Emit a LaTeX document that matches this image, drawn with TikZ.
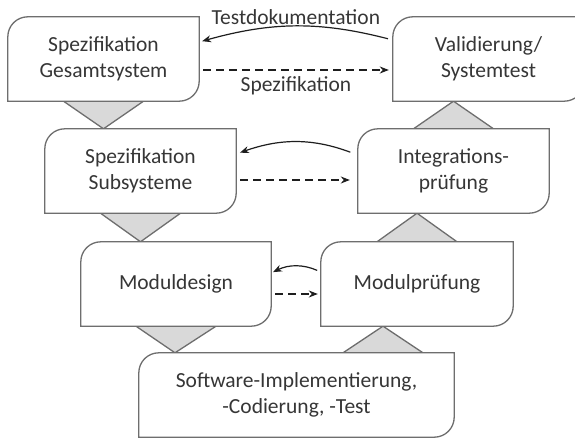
\documentclass[tikz,border=0pt]{standalone}
\usepackage{fontspec}
\setmainfont{Carlito}
\usetikzlibrary{arrows.meta}
\pgfdeclarelayer{background}
\pgfsetlayers{background,main}
\definecolor{txt}{HTML}{363636}
\definecolor{frameline}{HTML}{6E6E6E}
\definecolor{trifill}{HTML}{D9D9D9}
\definecolor{arrowline}{HTML}{1E1E1E}
\newcommand\cornerr{20pt}
% box outline with rounded top-left and bottom-right corners
\newcommand\vmframe[1]{%
  \draw[frameline, line width=1.3pt, fill=white]
    (#1.south west) -- ([yshift=-\cornerr]#1.north west)
    arc[start angle=180, end angle=90, radius=\cornerr]
    -- (#1.north east) -- ([yshift=\cornerr]#1.south east)
    arc[start angle=0, end angle=-90, radius=\cornerr] -- cycle;}
\begin{document}
\begin{tikzpicture}[x=1pt, y=-1pt,
  stage/.style={minimum width=191pt, minimum height=84pt, inner sep=0pt,
    align=center, text=txt, font=\fontsize{21.5}{26.5}\selectfont},
  tri/.style={draw=frameline, fill=trifill, line width=1.3pt, line join=round},
  solidarr/.style={draw=arrowline, line width=1.2pt,
    -{Stealth[length=9pt, width=7pt]}},
  dasharr/.style={draw=arrowline, line width=1.2pt, dash pattern=on 8pt off 5pt,
    -{Stealth[length=9pt, width=7pt]}},
  lbl/.style={text=txt, font=\fontsize{21.5}{26.5}\selectfont}]
\path[use as bounding box, clip] (0,0) rectangle (575,438);

% stages of the V-model
\node[stage] (b1)    at (103.5,59)  {Spezifikation\\Gesamtsystem};
\node[stage] (b2)    at (140.5,171) {Spezifikation\\Subsysteme};
\node[stage] (val)   at (488.5,59)  {Validierung/\\Systemtest};
\node[stage] (integ) at (453.5,171) {Integrations-\\prüfung};
\node[stage, minimum width=190pt] (md)   at (176,284) {Moduldesign};
\node[stage, minimum width=192pt] (modp) at (417,284) {Modulprüfung};
\node[stage, minimum width=315pt] (sw)   at (296.5,395)
  {Software-Implementierung,\\-Codierung, -Test};

\begin{pgfonlayer}{background}
% linking triangles
\draw[tri] ([xshift=-40pt]b1.south) -- ([xshift=40pt]b1.south) -- (b1.south |- b2.north) -- cycle;
\draw[tri] ([xshift=-40pt]b2.south) -- ([xshift=40pt]b2.south) -- (b2.south |- md.north) -- cycle;
\draw[tri] ([xshift=-40pt]md.south) -- ([xshift=40pt]md.south) -- ([xshift=-1pt]md.south |- sw.north) -- cycle;
\draw[tri] ([xshift=-40pt]integ.north) -- ([xshift=40pt]integ.north) -- (integ.north |- val.south) -- cycle;
\draw[tri] ([xshift=-40pt]modp.north) -- ([xshift=40pt]modp.north) -- (modp.north |- integ.south) -- cycle;
\draw[tri] ([xshift=-74pt]modp.south |- sw.north) -- ([xshift=6pt]modp.south |- sw.north) -- ([xshift=-34pt]modp.south) -- cycle;
% stage outlines
\foreach \n in {b1,b2,val,integ,md,modp,sw} {\vmframe{\n}}
\end{pgfonlayer}

% test feedback (solid) and specification flow (dashed)
\draw[solidarr, shorten <=5pt, shorten >=3pt] ([yshift=19pt]val.west) to[bend right=15]
  node[lbl, midway, above, inner sep=1pt] {Testdokumentation} ([yshift=17pt]b1.east);
\draw[dasharr, shorten <=4pt, shorten >=4pt] ([yshift=-11pt]b1.east) --
  node[lbl, midway, below=3pt] {Spezifikation} ([yshift=-11pt]val.west);

\draw[solidarr, shorten <=8pt, shorten >=4pt] ([yshift=16pt]integ.west) to[bend right=20] ([yshift=17pt]b2.east);
\draw[dasharr, shorten <=4pt, shorten >=8pt] ([yshift=-9pt]b2.east) -- ([yshift=-9pt]integ.west);

\draw[solidarr, shorten <=4pt, shorten >=2pt] ([yshift=12pt]modp.west) to[bend right=25] ([yshift=11pt]md.east);
\draw[dasharr, shorten <=4pt, shorten >=3pt] ([yshift=-10pt]md.east) -- ([yshift=-10pt]modp.west);
\end{tikzpicture}
\end{document}
